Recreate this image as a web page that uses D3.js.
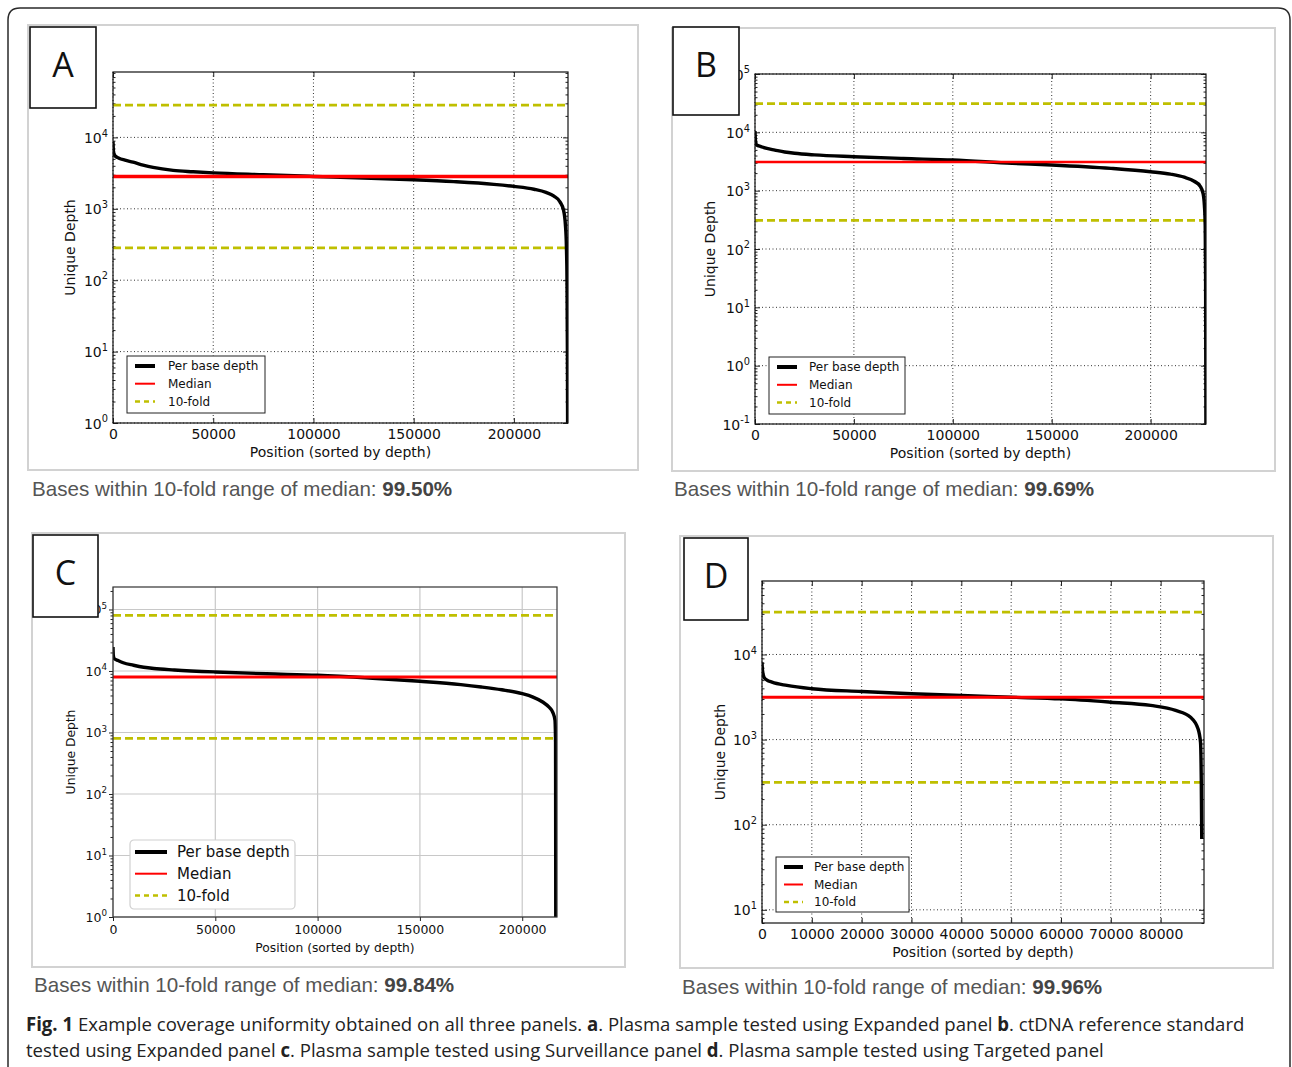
<!DOCTYPE html>
<html>
<head>
<meta charset="utf-8">
<script src="https://cdn.jsdelivr.net/npm/d3@7"></script>
<style>
body { margin: 0; background: #fff; }
svg { display: block; }
</style>
</head>
<body>
<script>

// ---- values ----
var panelLetters = ["A", "B", "C", "D"];

var posA = [0, 200, 800, 3000, 6000, 10000, 15000, 20000, 30000, 40000, 50000, 75000, 100000, 125000, 150000, 170000, 190000, 200000, 210000, 216000, 220000, 223000, 224800, 225700, 226200, 226500, 226700, 226800];
var depthA = [8800, 6500, 5600, 5100, 4800, 4500, 4100, 3800, 3450, 3300, 3180, 3000, 2840, 2700, 2550, 2400, 2200, 2060, 1880, 1700, 1500, 1250, 950, 600, 300, 100, 10, 1];

var posB = [0, 200, 800, 3000, 6000, 10000, 15000, 20000, 30000, 50000, 75000, 100000, 130000, 150000, 180000, 200000, 210000, 217000, 222000, 225000, 226500, 227200, 227600, 227800, 227900, 227950];
var depthB = [10500, 7500, 6100, 5700, 5300, 4970, 4600, 4370, 4100, 3820, 3560, 3350, 2950, 2760, 2410, 2110, 1920, 1700, 1450, 1200, 900, 550, 250, 30, 1, 0.1];

var posC = [0, 150, 600, 2500, 5000, 10000, 15000, 20000, 30000, 50000, 75000, 100000, 125000, 150000, 170000, 180000, 190000, 200000, 205000, 210000, 213000, 215000, 216000, 216300, 216400];
var depthC = [24500, 18000, 15900, 14800, 13600, 12400, 11500, 10960, 10400, 9640, 9000, 8510, 7700, 6800, 6000, 5500, 4950, 4280, 3800, 3130, 2600, 2100, 1600, 700, 1];

var posD = [0, 100, 400, 1000, 2000, 5000, 10000, 20000, 30000, 40000, 50000, 60000, 70000, 78000, 83000, 86000, 87500, 88000, 88150, 88250];
var depthD = [8100, 6500, 5400, 5000, 4730, 4330, 3960, 3670, 3450, 3300, 3150, 3010, 2750, 2520, 2200, 1830, 1340, 930, 350, 68];

var medians = [2830, 3100, 8000, 3140];
var foldRange = 10;

var xTicksWide = [0, 50000, 100000, 150000, 200000];
var xTicksD = [0, 10000, 20000, 30000, 40000, 50000, 60000, 70000, 80000];
var yMajorA = [1, 10, 100, 1000, 10000];
var yMajorB = [0.1, 1, 10, 100, 1000, 10000, 100000];
var yMajorC = [1, 10, 100, 1000, 10000, 100000];
var yMajorD = [10, 100, 1000, 10000];

var legendLabels = ["Per base depth", "Median", "10-fold"];
var withinPct = ["99.50%", "99.69%", "99.84%", "99.96%"];
var withinText = "Bases within 10-fold range of median: ";

var captionLine1 = [["Fig. 1", true], [" Example coverage uniformity obtained on all three panels. ", false], ["a", true], [". Plasma sample tested using Expanded panel ", false], ["b", true], [". ctDNA reference standard", false]];
var captionLine2 = [["tested using Expanded panel ", false], ["c", true], [". Plasma sample tested using Surveillance panel ", false], ["d", true], [". Plasma sample tested using Targeted panel", false]];

// ---- layout ----
var layout = [
  { frame: [28, 25, 638, 470], box: [30, 27, 96, 108], letterY: 77, plot: [113, 72, 568, 423],
    xMax: 227000, yDom: [1, 82400], xTicks: xTicksWide, yMajor: yMajorA,
    legend: { x: 127, y: 356, w: 138, h: 57, r0: 10, gap: 17.7, fs: 12, s0: 8, s1: 28, t: 41 },
    medW: 3.5, capX: 32, capY: 496, ylabX: 70 },
  { frame: [672, 28, 1275, 471], box: [673, 27, 739, 115], letterY: 77, plot: [755, 74, 1206, 424],
    xMax: 228000, yDom: [0.1, 100000], xTicks: xTicksWide, yMajor: yMajorB,
    legend: { x: 769, y: 357, w: 136, h: 57, r0: 10, gap: 17.8, fs: 12, s0: 8, s1: 28, t: 40 },
    medW: 2.5, capX: 674, capY: 496, ylabX: 710 },
  { frame: [32, 533, 625, 967], box: [33, 535, 98, 617], letterY: 585, plot: [113, 587, 557, 917],
    xMax: 217000, yDom: [1, 232000], xTicks: xTicksWide, yMajor: yMajorC, modern: true,
    legend: { x: 130, y: 840, w: 165, h: 69, r0: 12, gap: 21.7, fs: 15, s0: 5, s1: 37, t: 47 },
    medW: 3, capX: 34, capY: 992, ylabX: 71 },
  { frame: [680, 536, 1273, 968], box: [684, 538, 748, 620], letterY: 588, plot: [762, 581, 1204, 923],
    xMax: 88700, yDom: [7, 73000], xTicks: xTicksD, yMajor: yMajorD,
    legend: { x: 776, y: 857, w: 133, h: 55, r0: 10, gap: 17.5, fs: 12, s0: 8, s1: 27, t: 38 },
    medW: 3, capX: 682, capY: 994, ylabX: 720 }
];

var series = [[posA, depthA], [posB, depthB], [posC, depthC], [posD, depthD]];

var mplFont = "'DejaVu Sans', Verdana, sans-serif";
var yellow = "#bfbf00";

var svg = d3.select("body").append("svg")
    .attr("width", 1292)
    .attr("height", 1067);

svg.append("rect").attr("width", 1292).attr("height", 1067).attr("fill", "#fff");

// outer rounded border (open at the bottom)
svg.append("path")
    .attr("d", "M8,1070 L8,20 Q8,8 20,8 L1278,8 Q1290,8 1290,20 L1290,1070")
    .attr("fill", "none")
    .attr("stroke", "#2a2a2a")
    .attr("stroke-width", 1.5);

function drawPanel(i) {
  var L = layout[i];
  var pos = series[i][0], depth = series[i][1];
  var modern = !!L.modern;
  var fs = modern ? 12.5 : 14;
  var g = svg.append("g");

  g.append("rect")
      .attr("x", L.frame[0]).attr("y", L.frame[1])
      .attr("width", L.frame[2] - L.frame[0]).attr("height", L.frame[3] - L.frame[1])
      .attr("fill", "#fff").attr("stroke", "#d2d2d2").attr("stroke-width", 2);

  var x = d3.scaleLinear().domain([0, L.xMax]).range([L.plot[0], L.plot[2]]);
  var y = d3.scaleLog().domain(L.yDom).range([L.plot[3], L.plot[1]]);

  // minor ticks on the log axis
  var minors = [];
  var e0 = Math.floor(Math.log10(L.yDom[0]) + 1e-9);
  for (var e = e0; e <= Math.ceil(Math.log10(L.yDom[1])); e++) {
    for (var k = 2; k < 10; k++) {
      var v = k * Math.pow(10, e);
      if (v >= L.yDom[0] && v <= L.yDom[1]) minors.push(v);
    }
  }

  // grid
  var grid = g.append("g");
  var gridStyle = function(s) {
    if (modern) s.attr("stroke", "#c8c8c8").attr("stroke-width", 1.2);
    else s.attr("stroke", "#333").attr("stroke-width", 1).attr("stroke-dasharray", "1,2.5");
  };
  grid.selectAll("line.gx").data(L.xTicks).enter().append("line")
      .attr("x1", d => x(d)).attr("x2", d => x(d))
      .attr("y1", L.plot[1]).attr("y2", L.plot[3])
      .call(gridStyle);
  grid.selectAll("line.gy").data(L.yMajor).enter().append("line")
      .attr("x1", L.plot[0]).attr("x2", L.plot[2])
      .attr("y1", d => y(d)).attr("y2", d => y(d))
      .call(gridStyle);

  // axes
  var inner = modern ? 4 : -5;
  var xAx = g.append("g")
      .attr("transform", "translate(0," + L.plot[3] + ")")
      .call(d3.axisBottom(x).tickValues(L.xTicks).tickSizeInner(inner).tickSizeOuter(0)
          .tickPadding(modern ? 4 : 6).tickFormat(d3.format("d")));
  xAx.selectAll("text").attr("font-family", mplFont).attr("font-size", fs).attr("fill", "#111");

  if (!modern) {
    g.append("g")
        .attr("transform", "translate(0," + L.plot[1] + ")")
        .call(d3.axisTop(x).tickValues(L.xTicks).tickSizeInner(-5).tickSizeOuter(0).tickFormat(""));
    g.append("g")
        .attr("transform", "translate(" + L.plot[2] + ",0)")
        .call(d3.axisRight(y).tickValues(L.yMajor).tickSizeInner(-5).tickSizeOuter(0).tickFormat(""));
    g.append("g")
        .attr("transform", "translate(" + L.plot[2] + ",0)")
        .call(d3.axisRight(y).tickValues(minors).tickSizeInner(-2.5).tickSizeOuter(0).tickFormat(""));
  }
  g.append("g")
      .attr("transform", "translate(" + L.plot[0] + ",0)")
      .call(d3.axisLeft(y).tickValues(L.yMajor).tickSizeInner(inner).tickSizeOuter(0).tickFormat(""));
  g.append("g")
      .attr("transform", "translate(" + L.plot[0] + ",0)")
      .call(d3.axisLeft(y).tickValues(minors).tickSizeInner(modern ? 2.5 : -2.5).tickSizeOuter(0).tickFormat(""));
  g.selectAll(".domain").remove();
  g.selectAll(".tick line").attr("stroke", "#222");

  // y tick labels with superscripts
  var yl = g.selectAll("text.ylab").data(L.yMajor).enter().append("text")
      .attr("x", L.plot[0] - (modern ? 6 : 5))
      .attr("y", d => y(d) + fs * 0.4)
      .attr("text-anchor", "end")
      .attr("font-family", mplFont).attr("font-size", fs).attr("fill", "#111");
  yl.append("tspan").text("10");
  yl.append("tspan").attr("dy", -fs * 0.45).attr("font-size", fs * 0.7)
      .text(d => String(Math.round(Math.log10(d))));

  // reference lines
  var clip = "clip" + i;
  g.append("clipPath").attr("id", clip).append("rect")
      .attr("x", L.plot[0]).attr("y", L.plot[1])
      .attr("width", L.plot[2] - L.plot[0]).attr("height", L.plot[3] - L.plot[1]);
  var marks = g.append("g").attr("clip-path", "url(#" + clip + ")");

  [medians[i] * foldRange, medians[i] / foldRange].forEach(function(v) {
    marks.append("line")
        .attr("x1", L.plot[0]).attr("x2", L.plot[2])
        .attr("y1", y(v)).attr("y2", y(v))
        .attr("stroke", yellow).attr("stroke-width", 2.8).attr("stroke-dasharray", "8,4");
  });

  var line = d3.line()
      .x((d, j) => x(pos[j]))
      .y(d => y(d))
      .curve(d3.curveMonotoneX);
  marks.append("path")
      .datum(depth)
      .attr("d", line)
      .attr("fill", "none")
      .attr("stroke", "#000")
      .attr("stroke-width", 3.4);

  marks.append("line")
      .attr("x1", L.plot[0]).attr("x2", L.plot[2])
      .attr("y1", y(medians[i])).attr("y2", y(medians[i]))
      .attr("stroke", "#ff0000").attr("stroke-width", L.medW);

  // spines
  g.append("rect")
      .attr("x", L.plot[0]).attr("y", L.plot[1])
      .attr("width", L.plot[2] - L.plot[0]).attr("height", L.plot[3] - L.plot[1])
      .attr("fill", "none").attr("stroke", modern ? "#333" : "#111").attr("stroke-width", 1.2);

  // legend
  var lg = L.legend;
  var leg = g.append("g").attr("transform", "translate(" + lg.x + "," + lg.y + ")");
  leg.append("rect")
      .attr("width", lg.w).attr("height", lg.h)
      .attr("rx", modern ? 4 : 0)
      .attr("fill", "#fff")
      .attr("stroke", modern ? "#d0d0d0" : "#222")
      .attr("stroke-width", modern ? 1.2 : 1);
  var legStroke = [["#000", 4, null], ["#ff0000", 2, null], [yellow, 2.5, "5,4"]];
  legendLabels.forEach(function(lab, j) {
    var yy = lg.r0 + j * lg.gap;
    leg.append("line")
        .attr("x1", lg.s0).attr("x2", lg.s1).attr("y1", yy).attr("y2", yy)
        .attr("stroke", legStroke[j][0]).attr("stroke-width", legStroke[j][1])
        .attr("stroke-dasharray", legStroke[j][2]);
    leg.append("text")
        .attr("x", lg.t).attr("y", yy + lg.fs * 0.36)
        .attr("font-family", mplFont).attr("font-size", lg.fs).attr("fill", "#111")
        .text(lab);
  });

  // axis titles
  g.append("text")
      .attr("x", (L.plot[0] + L.plot[2]) / 2)
      .attr("y", L.plot[3] + (modern ? 35 : 34))
      .attr("text-anchor", "middle")
      .attr("font-family", mplFont).attr("font-size", modern ? 12.3 : 14).attr("fill", "#111")
      .text("Position (sorted by depth)");
  g.append("text")
      .attr("transform", "translate(" + L.ylabX + "," + ((L.plot[1] + L.plot[3]) / 2) + ") rotate(-90)")
      .attr("text-anchor", "middle")
      .attr("dy", "0.35em")
      .attr("font-family", mplFont).attr("font-size", modern ? 12.3 : 14).attr("fill", "#111")
      .text("Unique Depth");

  // panel letter box
  g.append("rect")
      .attr("x", L.box[0]).attr("y", L.box[1])
      .attr("width", L.box[2] - L.box[0]).attr("height", L.box[3] - L.box[1])
      .attr("fill", "#fff").attr("stroke", "#111").attr("stroke-width", 1.6);
  g.append("text")
      .attr("x", (L.box[0] + L.box[2]) / 2).attr("y", L.letterY)
      .attr("text-anchor", "middle")
      .attr("font-family", "'Open Sans', 'Liberation Sans', sans-serif")
      .attr("font-size", 34).attr("fill", "#111")
      .text(panelLetters[i]);

  // percentage caption under the panel
  var cap = g.append("text")
      .attr("x", L.capX).attr("y", L.capY)
      .attr("font-family", "'Liberation Sans', Arial, sans-serif")
      .attr("font-size", 20.6).attr("fill", "#555");
  cap.append("tspan").text(withinText);
  cap.append("tspan").attr("font-weight", "bold").attr("fill", "#444").text(withinPct[i]);
}

for (var i = 0; i < 4; i++) drawPanel(i);

// figure caption
function captionLine(parts, yBase) {
  var t = svg.append("text")
      .attr("x", 0).attr("y", 0)
      .attr("font-family", "'Open Sans', 'Noto Sans', sans-serif")
      .attr("font-size", 19).attr("fill", "#222");
  parts.forEach(function(p) {
    t.append("tspan").attr("font-weight", p[1] ? "bold" : "normal").text(p[0]);
  });
  return { node: t, y: yBase };
}
var c1 = captionLine(captionLine1, 1031);
var c2 = captionLine(captionLine2, 1057);
var sx = 1219 / c1.node.node().getComputedTextLength();
[c1, c2].forEach(function(c) {
  c.node.attr("transform", "translate(26," + c.y + ") scale(" + sx + ",1)");
});

</script>
</body>
</html>
